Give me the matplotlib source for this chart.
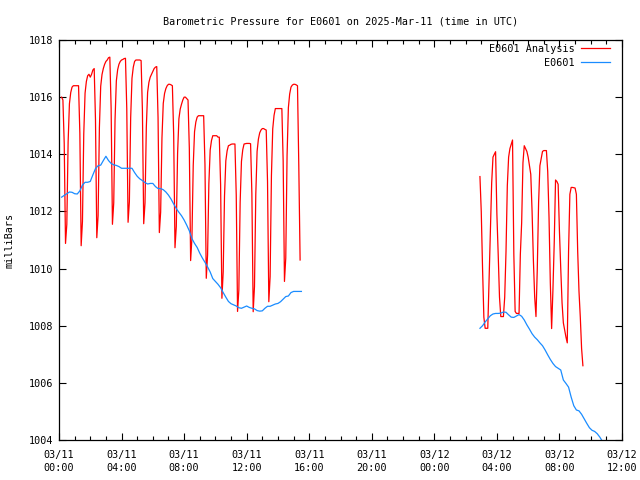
"""Barometric pressure for E0601, analysis vs observation"""

import pandas as pd
import matplotlib
matplotlib.use("Agg")
import matplotlib.pyplot as plt
import matplotlib.dates as mdates

# %%
# analysis (red), 5-minute samples, first block starts 03/11 00:10
analysis_start_1 = "2025-03-11 00:10"
analysis_1 = [
    1016.0, 1015.9, 1014.38, 1010.88, 1011.55, 1014.43, 1015.77, 1016.16, 1016.35, 1016.4,
    1016.4, 1016.4, 1016.4, 1016.4, 1014.74, 1010.8, 1011.65, 1014.71, 1016.14, 1016.55, 1016.75, 1016.8,
    1016.7, 1016.8, 1016.95, 1017.0, 1015.2, 1011.08, 1011.85, 1014.94, 1016.38, 1016.79, 1017.0, 1017.15,
    1017.25, 1017.3, 1017.38, 1017.4, 1015.61, 1011.55, 1012.3, 1015.21, 1016.57, 1016.96, 1017.15, 1017.25,
    1017.3, 1017.32, 1017.35, 1017.36, 1015.6, 1011.62, 1012.34, 1015.29, 1016.66, 1017.05, 1017.25, 1017.3,
    1017.3, 1017.3, 1017.3, 1017.28, 1015.54, 1011.57, 1012.3, 1014.94, 1016.17, 1016.52, 1016.7, 1016.8,
    1016.9, 1017.0, 1017.05, 1017.07, 1015.29, 1011.26, 1011.98, 1014.57, 1015.78, 1016.13, 1016.3, 1016.4,
    1016.45, 1016.45, 1016.43, 1016.4, 1014.67, 1010.73, 1011.47, 1014.04, 1015.24, 1015.58, 1015.75, 1015.9,
    1016.0, 1016.0, 1015.95, 1015.9, 1014.21, 1010.28, 1011.07, 1013.61, 1014.79, 1015.13, 1015.3, 1015.35,
    1015.35, 1015.35, 1015.35, 1015.35, 1013.64, 1009.66, 1010.47, 1012.98, 1014.15, 1014.48, 1014.65, 1014.65,
    1014.65, 1014.65, 1014.6, 1014.6, 1012.95, 1008.96, 1009.89, 1012.54, 1013.77, 1014.12, 1014.3, 1014.32,
    1014.35, 1014.36, 1014.36, 1014.36, 1012.57, 1008.5, 1009.25, 1012.32, 1013.75, 1014.16, 1014.36, 1014.37,
    1014.38, 1014.38, 1014.38, 1014.37, 1012.62, 1008.49, 1009.37, 1012.6, 1014.1, 1014.53, 1014.75, 1014.85,
    1014.9, 1014.9, 1014.87, 1014.85, 1013.05, 1008.84, 1009.72, 1013.25, 1014.89, 1015.36, 1015.6, 1015.6,
    1015.6, 1015.6, 1015.6, 1015.6, 1013.77, 1009.55, 1010.37, 1013.96, 1015.63, 1016.11, 1016.35, 1016.42,
    1016.45, 1016.45, 1016.43, 1016.4, 1013.6, 1010.3,
]

# second block starts 03/12 02:55
analysis_start_2 = "2025-03-12 02:55"
analysis_2 = [
    1013.22, 1012.0, 1010.0, 1008.3, 1007.91, 1007.91, 1007.91, 1009.6, 1011.3, 1013.0, 1013.9, 1014.0,
    1014.09, 1011.9, 1010.5, 1009.0, 1008.32, 1008.32, 1008.32, 1009.0, 1010.6, 1012.9, 1013.9, 1014.2,
    1014.35, 1014.5, 1010.5, 1008.5, 1008.43, 1008.43, 1008.43, 1010.5, 1011.6, 1013.7, 1014.3, 1014.2,
    1014.1, 1013.9, 1013.6, 1013.3, 1012.0, 1010.3, 1009.0, 1008.32, 1010.0, 1012.3, 1013.6, 1013.85,
    1014.1, 1014.13, 1014.13, 1014.13, 1013.4, 1011.8, 1009.5, 1007.9, 1009.25, 1010.9, 1013.1, 1013.05,
    1012.95, 1011.3, 1010.0, 1008.8, 1008.1, 1007.85, 1007.6, 1007.4, 1010.6, 1012.6, 1012.84, 1012.84,
    1012.83, 1012.82, 1012.6, 1010.6, 1009.2, 1008.3, 1007.2, 1006.6,
]

# station observation (blue), 10-minute samples
obs_start_1 = "2025-03-11 00:10"
obs_1 = [
    1012.5, 1012.56, 1012.62, 1012.68, 1012.67, 1012.62, 1012.61, 1012.72, 1012.92, 1013.02, 1013.02, 1013.05,
    1013.28, 1013.5, 1013.6, 1013.62, 1013.78, 1013.93, 1013.78, 1013.68, 1013.63, 1013.61, 1013.57, 1013.51,
    1013.51, 1013.51, 1013.51, 1013.51, 1013.36, 1013.23, 1013.14, 1013.08, 1013.01, 1012.96, 1012.98, 1012.98,
    1012.87, 1012.8, 1012.8, 1012.76, 1012.68, 1012.57, 1012.43, 1012.26, 1012.1, 1011.97, 1011.85, 1011.7,
    1011.52, 1011.32, 1011.05, 1010.88, 1010.74, 1010.54, 1010.37, 1010.22, 1010.06, 1009.88, 1009.65, 1009.55,
    1009.45, 1009.33, 1009.16, 1009.0, 1008.85, 1008.77, 1008.73, 1008.69, 1008.63, 1008.61, 1008.65, 1008.69,
    1008.64, 1008.61, 1008.59, 1008.53, 1008.51, 1008.52, 1008.61, 1008.68, 1008.68, 1008.72, 1008.76, 1008.78,
    1008.84, 1008.93, 1009.02, 1009.04, 1009.16, 1009.2, 1009.2, 1009.2, 1009.2,
]

obs_start_2 = "2025-03-12 02:55"
obs_2 = [
    1007.91, 1008.0, 1008.13, 1008.24, 1008.35, 1008.41, 1008.43, 1008.43, 1008.44, 1008.48, 1008.47, 1008.38,
    1008.3, 1008.29, 1008.34, 1008.39, 1008.33, 1008.2, 1008.03, 1007.88, 1007.72, 1007.6, 1007.51, 1007.4,
    1007.3, 1007.15, 1006.98, 1006.82, 1006.68, 1006.57, 1006.51, 1006.45, 1006.1, 1005.98, 1005.85, 1005.5,
    1005.2, 1005.05, 1005.02, 1004.9, 1004.74, 1004.58, 1004.43, 1004.34, 1004.3, 1004.22, 1004.1, 1003.95,
]

y_ticks = [1004, 1006, 1008, 1010, 1012, 1014, 1016, 1018]

RED = "#ff0000"
BLUE = "#1a8cff"
FONT = "DejaVu Sans Mono"
FS = 7.3

# %%
plt.rcParams["font.family"] = FONT
plt.rcParams["font.size"] = FS

fig = plt.figure(figsize=(6.4, 4.8), dpi=100)
ax = fig.add_axes([59 / 640, 1 - 440 / 480, (622 - 59) / 640, 400 / 480])

t_a1 = pd.date_range(analysis_start_1, periods=len(analysis_1), freq="5min")
t_a2 = pd.date_range(analysis_start_2, periods=len(analysis_2), freq="5min")
t_o1 = pd.date_range(obs_start_1, periods=len(obs_1), freq="10min")
t_o2 = pd.date_range(obs_start_2, periods=len(obs_2), freq="10min")

ax.plot(t_a1, analysis_1, color=RED, lw=0.9, label="E0601 Analysis")
ax.plot(t_a2, analysis_2, color=RED, lw=0.9)
ax.plot(t_o1, obs_1, color=BLUE, lw=0.9, label="E0601")
ax.plot(t_o2, obs_2, color=BLUE, lw=0.9)

ax.set_xlim(pd.Timestamp("2025-03-11 00:00"), pd.Timestamp("2025-03-12 12:00"))
ax.set_ylim(1004, 1018)
ax.set_yticks(y_ticks)
ax.xaxis.set_major_locator(mdates.HourLocator(byhour=range(0, 24, 4)))
ax.xaxis.set_minor_locator(mdates.HourLocator())
ax.xaxis.set_major_formatter(mdates.DateFormatter("%m/%d\n%H:%M"))

ax.tick_params(which="both", direction="in", top=True, right=True, width=0.8)
ax.tick_params(which="major", length=5)
ax.tick_params(which="minor", length=3)
ax.tick_params(axis="x", pad=7)
ax.tick_params(axis="y", pad=4)
for lab in ax.get_xticklabels():
    lab.set_linespacing(1.35)
for s in ax.spines.values():
    s.set_linewidth(0.9)

ax.set_title(
    "Barometric Pressure for E0601 on 2025-Mar-11 (time in UTC)", fontsize=FS, pad=11
)
ax.set_ylabel("milliBars")
ax.yaxis.set_label_coords(-(59 - 15) / 563, 0.5)

ax.legend(
    loc="upper right",
    bbox_to_anchor=((610 - 59) / 563, (440 - 44) / 400),
    frameon=False,
    markerfirst=False,
    handlelength=2.9,
    handletextpad=0.6,
    labelspacing=0.35,
    borderpad=0,
    borderaxespad=0,
)

plt.savefig("out.png", dpi=100)
